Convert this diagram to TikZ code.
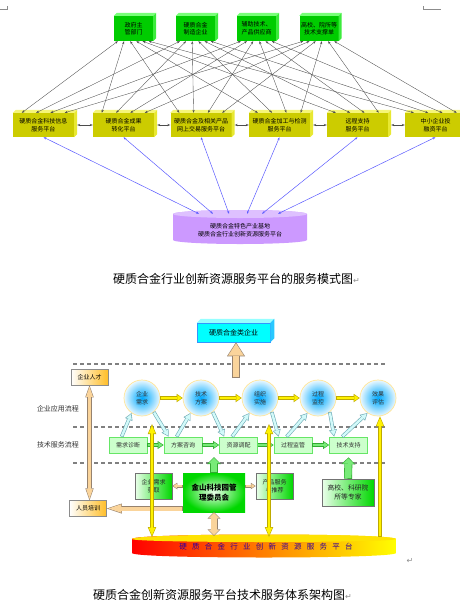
\documentclass[tikz,border=0pt]{standalone}
\usepackage{fontspec}
\newfontfamily\cjk{Noto Sans CJK SC}
\newfontfamily\cjkwide[LetterSpace=70]{Noto Sans CJK SC}
\newfontfamily\symfont{DejaVu Sans}
\usepackage{tikz}
\usetikzlibrary{positioning, arrows.meta}

\definecolor{govfront}{RGB}{0,204,0}
\definecolor{govside}{RGB}{60,235,60}
\definecolor{govtop}{RGB}{120,255,120}
\definecolor{platfront}{RGB}{204,204,0}
\definecolor{platside}{RGB}{232,232,50}
\definecolor{plattop}{RGB}{245,245,120}
\definecolor{cylbody}{RGB}{204,153,255}
\definecolor{cyltop}{RGB}{222,192,255}
\definecolor{linkblue}{RGB}{90,90,255}
\definecolor{firmfront}{RGB}{0,255,255}
\definecolor{firmside}{RGB}{40,200,255}
\definecolor{firmtop}{RGB}{150,255,255}
\definecolor{firmline}{RGB}{50,150,255}
\definecolor{gold}{RGB}{190,170,0}
\definecolor{peach}{RGB}{250,212,155}
\definecolor{peachline}{RGB}{150,130,110}
\definecolor{mint}{RGB}{204,255,204}
\definecolor{mintline}{RGB}{102,230,102}
\definecolor{leaf}{RGB}{120,235,120}
\definecolor{leafline}{RGB}{50,170,50}
\definecolor{ice}{RGB}{210,250,250}
\definecolor{iceline}{RGB}{110,170,180}
\definecolor{ringline}{RGB}{255,228,150}
\definecolor{skyblue}{RGB}{0,170,255}
\definecolor{dashgray}{RGB}{128,128,128}
\definecolor{amber}{RGB}{255,190,40}
\definecolor{deepgreen}{RGB}{0,215,0}
\definecolor{indigo}{RGB}{51,0,153}

\pgfdeclareradialshading{bulb}{\pgfpoint{0bp}{0bp}}{color(0bp)=(skyblue); color(9bp)=(skyblue!70!white); color(27bp)=(white); color(50bp)=(white)}

\tikzset{
  small/.style={font=\cjk\fontsize{6}{7.6}\selectfont, align=center, inner sep=0pt},
  govbox/.style={small, fill=govfront, minimum width=39pt, minimum height=25pt},
  platbox/.style={small, fill=platfront, minimum width=61pt, minimum height=24pt},
  link/.style={{Stealth[length=3pt,width=2.2pt]}-{Stealth[length=3pt,width=2.2pt]}, draw=black!70, line width=0.35pt},
  nbr/.style={link, line width=0.6pt},
  bluelink/.style={link, draw=linkblue, line width=0.5pt},
  caption/.style={font=\cjk\fontsize{12}{14}\selectfont, inner sep=0pt},
  retmark/.style={font=\symfont\fontsize{8}{8}\selectfont, text=black!45, inner sep=0pt},
  sepline/.style={dashgray, line width=1.3pt, dash pattern=on 4pt off 3pt},
  stage/.style={small, circle, minimum size=36pt, draw=ringline, line width=0.7pt, shading=bulb, text=black!80},
  task/.style={small, draw=mintline, fill=mint, line width=0.7pt, minimum width=38pt, minimum height=16pt, text=black!80},
  gbox/.style={small, draw=black!55, line width=0.5pt, left color=green!8, right color=deepgreen, text=black!85},
  person/.style={small, draw=black!45, line width=0.5pt, left color=white, right color=amber, minimum width=37pt, minimum height=16pt},
  lab/.style={font=\cjk\fontsize{7}{8}\selectfont, text=black!80, inner sep=0pt},
  % outlined block arrows: border, fill, shaft, tips, inner shaft, inner tips, shorten > and <
  fat/.style n args={8}{draw=#1, line width=#3, arrows={#4},
    postaction={draw=#2, line width=#5, arrows={#6}, shorten >=#7, shorten <=#8}},
  cflow/.style={fat={gold}{yellow}{3.6pt}{-{Triangle[length=6pt,width=8.5pt,line width=0pt]}}{2.4pt}{-{Triangle[length=4.4pt,width=6.2pt,line width=0pt]}}{1pt}{0.6pt}},
  vlink/.style={fat={gold}{yellow}{4pt}{{Triangle[length=10pt,width=8.5pt,line width=0pt]}-{Triangle[length=10pt,width=8.5pt,line width=0pt]}}{2.8pt}{{Triangle[length=7.9pt,width=6.7pt,line width=0pt]}-{Triangle[length=7.9pt,width=6.7pt,line width=0pt]}}{1.5pt}{1.5pt}},
  vup/.style={fat={gold}{yellow}{4pt}{-{Triangle[length=10pt,width=8.5pt,line width=0pt]}}{2.8pt}{-{Triangle[length=7.9pt,width=6.7pt,line width=0pt]}}{1.5pt}{0.6pt}},
  pflow/.style={fat={leafline}{leaf}{4pt}{-{Triangle[length=6pt,width=8pt,line width=0pt]}}{2.8pt}{-{Triangle[length=4.3pt,width=5.8pt,line width=0pt]}}{1.1pt}{0.6pt}},
  diag/.style={fat={iceline}{ice}{3.6pt}{-{Triangle[length=7pt,width=8pt,line width=0pt]}}{2.4pt}{-{Triangle[length=5.2pt,width=5.9pt,line width=0pt]}}{1.2pt}{0.6pt}},
  pvert/.style={fat={peachline}{peach}{4.5pt}{{Triangle[length=12pt,width=8.5pt,line width=0pt]}-{Triangle[length=12pt,width=8.5pt,line width=0pt]}}{3.5pt}{{Triangle[length=10pt,width=7pt,line width=0pt]}-{Triangle[length=10pt,width=7pt,line width=0pt]}}{1.5pt}{1.5pt}},
  psmall/.style={fat={peachline}{peach}{3pt}{-{Triangle[length=5pt,width=6.5pt,line width=0pt]}}{2pt}{-{Triangle[length=3.6pt,width=4.7pt,line width=0pt]}}{0.9pt}{0.5pt}},
  plong/.style={fat={peachline}{peach}{5pt}{-{Triangle[length=15pt,width=10pt,line width=0pt]}}{4pt}{-{Triangle[length=12.9pt,width=8.6pt,line width=0pt]}}{1.6pt}{0.5pt}},
  pdouble/.style={fat={peachline}{peach}{7pt}{{Triangle[length=6.5pt,width=13pt,line width=0pt]}-{Triangle[length=6.5pt,width=13pt,line width=0pt]}}{6pt}{{Triangle[length=5.3pt,width=10.6pt,line width=0pt]}-{Triangle[length=5.3pt,width=10.6pt,line width=0pt]}}{0.7pt}{0.7pt}},
  pbig/.style={fat={peachline}{peach}{8pt}{-{Triangle[length=14pt,width=18pt,line width=0pt]}}{6.8pt}{-{Triangle[length=12.3pt,width=15.8pt,line width=0pt]}}{1.1pt}{0.6pt}},
  gup/.style={fat={leafline}{leaf}{8pt}{-{Triangle[length=7pt,width=14pt,line width=0pt]}}{6.8pt}{-{Triangle[length=5.5pt,width=11pt,line width=0pt]}}{0.9pt}{0.6pt}},
}

\begin{document}
\begin{tikzpicture}[x=1pt, y=-1pt]
        \clip (0,0) rectangle (460,611);
        \draw[black!45, line width=0.6pt] (0,9) -- (7,9) -- (7,6);
        \draw[black!45, line width=0.6pt] (423,6) -- (423,9) -- (441,9);
        %---------------------------
        \node[govbox] (g1) at (133.5,28.5) {政府主\\管部门};
        \node[govbox] (g2) at (195.5,28.5) {硬质合金\\制造企业};
        \node[govbox] (g3) at (256.5,28.5) {辅助技术、\\产品供应商};
        \node[govbox] (g4) at (319,28.5) {高校、院所等\\技术支撑单};
        \foreach \n in {g1,g2,g3,g4} {
          \fill[govtop] (\n.north west) -- ++(3,-3) -- ([shift={(3,-3)}]\n.north east) -- (\n.north east) -- cycle;
          \fill[govside] (\n.north east) -- ++(3,-3) -- ([shift={(3,-3)}]\n.south east) -- (\n.south east) -- cycle;
        }
        \node[platbox] (y1) at (43.5,125) {硬质合金科技信息\\服务平台};
        \node[platbox] (y2) at (123.5,125) {硬质合金成果\\转化平台};
        \node[platbox] (y3) at (201,125) {硬质合金及相关产品\\网上交易服务平台};
        \node[platbox] (y4) at (279.5,125) {硬质合金加工与检测\\服务平台};
        \node[platbox] (y5) at (357.5,125) {远程支持\\服务平台};
        \node[platbox] (y6) at (435.5,125) {中小企业投\\融资平台};
        \foreach \n in {y1,y2,y3,y4,y5,y6} {
          \fill[plattop] (\n.north west) -- ++(3,-3) -- ([shift={(3,-3)}]\n.north east) -- (\n.north east) -- cycle;
          \fill[platside] (\n.north east) -- ++(3,-3) -- ([shift={(3,-3)}]\n.south east) -- (\n.south east) -- cycle;
        }
        %---------------------------
        \foreach \i in {1,...,4}
          \foreach \j in {1,...,6}
            \draw[link] ([xshift={4+(\j-1)*6.2}]g\i.south west) -- ([xshift={9+(\i-1)*14.3}]y\j.north west);
        \foreach \a/\b in {y1/y2, y2/y3, y3/y4, y4/y5, y5/y6}
          \draw[nbr] ([xshift=3]\a.east) -- (\b.west);
        %---------------------------
        \fill[cylbody] (173,214) -- (173,240) arc[start angle=180, end angle=0, x radius=67, y radius=4] -- (307,214) arc[start angle=0, end angle=-180, x radius=67, y radius=4] -- cycle;
        \fill[cyltop] (240,214) ellipse[x radius=67, y radius=4];
        \node[small, minimum width=134pt, minimum height=32pt] (base) at (240,230) {硬质合金特色产业基地\\硬质合金行业创新资源服务平台};
        \foreach \j/\dx in {1/-41, 2/-27, 3/-11, 4/7, 5/22, 6/38}
          \draw[bluelink] ([xshift=\dx]base.north) -- (y\j.south);
        \node[caption, anchor=west] (cap1) at (113,279) {硬质合金行业创新资源服务平台的服务模式图{\symfont\color{black!45}\fontsize{8}{8}\selectfont ↵}};
        %---------------------------
        \node[small, font=\cjk\fontsize{7}{8}\selectfont, fill=firmfront, draw=firmline, line width=0.5pt, minimum width=73pt, minimum height=19pt] (firm) at (233.5,332.5) {硬质合金类企业};
        \fill[firmtop] (firm.north west) -- ++(4,-4) -- ([shift={(4,-4)}]firm.north east) -- (firm.north east) -- cycle;
        \fill[firmside] (firm.north east) -- ++(4,-4) -- ([shift={(4,-4)}]firm.south east) -- (firm.south east) -- cycle;
        \foreach \yy in {364,427,463}
          \draw[sepline] (73,\yy) -- (385,\yy);
        \node[lab] (app) at (58,409) {企业应用流程};
        \node[lab] (tech) at (58,445) {技术服务流程};
        \node[person] (talent) at (89.5,377) {企业人才};
        \node[person] (train) at (88,508.5) {人员培训};
        %---------------------------
        \node[stage] (c1) at (142,398) {企业\\需求};
        \node[stage] (c2) at (201,398) {技术\\方案};
        \node[stage] (c3) at (260,398) {组织\\实施};
        \node[stage] (c4) at (318,398) {过程\\监控};
        \node[stage] (c5) at (378,398) {效果\\评估};
        \node[task] (p1) at (128,445) {需求诊断};
        \node[task] (p2) at (183,445) {方案咨询};
        \node[task] (p3) at (238.5,445) {资源调配};
        \node[task] (p4) at (293,445) {过程监管};
        \node[task] (p5) at (348.5,445) {技术支持};
        \node[gbox, minimum width=37pt, minimum height=26pt] (q1) at (153.5,486) {企业需求\\获取};
        \node[gbox, minimum width=37pt, minimum height=26pt] (q2) at (274.5,486) {产品服务\\与推荐};
        \node[small, font=\cjk\bfseries\fontsize{7.5}{10.5}\selectfont, inner color=green!8, outer color=deepgreen, minimum width=62pt, minimum height=39pt] (jsk) at (214,492.5) {金山科技园管\\理委员会};
        \node[gbox, font=\cjk\fontsize{6.8}{9}\selectfont, minimum width=52pt, minimum height=27pt] (expert) at (348,492.5) {高校、科研院\\所等专家};
        %---------------------------
        \shade[left color=red, middle color=orange, right color=yellow] (132,539) -- (132,553) .. controls (132,559) and (396,559) .. (396,553) -- (396,539) .. controls (396,533) and (132,533) .. (132,539) -- cycle;
        \fill[yellow!85!orange] (132,539) .. controls (132,533) and (396,533) .. (396,539) .. controls (396,543) and (132,543) .. (132,539) -- cycle;
        \node[font=\cjkwide\fontsize{7.5}{9}\selectfont, text=indigo, minimum width=264pt, minimum height=22pt, inner sep=0pt] (plat) at (266,547) {硬质合金行业创新资源服务平台};
        \node[retmark] (ret2) at (410,561) {↵};
        %---------------------------
        \foreach \a/\b in {c1/c2, c2/c3, c3/c4, c4/c5}
          \draw[cflow] (\a.east) -- (\b.west);
        \foreach \a/\b in {p1/p2, p2/p3, p3/p4, p4/p5}
          \draw[pflow] (\a.east) -- (\b.west);
        \foreach \i in {1,...,5}
          \draw[diag] ([xshift=13]p\i.north west) -- (c\i.-125);
        \foreach \i/\k in {1/2, 2/3, 3/4, 4/5}
          \draw[diag] (c\i.-50) -- ([xshift=5]p\k.north west);
        %---------------------------
        \coordinate (bigbase) at (236,378);
        \coordinate (jskup) at (214,457);
        \coordinate (v1a) at (152,424);
        \coordinate (v1b) at (152,537);
        \coordinate (v2a) at (269,424);
        \coordinate (v2b) at (269,537);
        \coordinate (v3b) at (380,537);
        \draw[pbig] (bigbase) -- ([xshift=2.5]firm.south);
        \draw[pvert] (talent.south) -- (talent.south |- train.north);
        \draw[psmall] (jsk.west |- q1.east) -- (q1.east);
        \draw[psmall] (jsk.east |- q2.west) -- (q2.west);
        \draw[plong] (jsk.west |- train.east) -- (train.east);
        \draw[pdouble] (jsk.south) -- (jsk.south |- plat.north);
        \draw[gup] (jsk.north) -- (jskup);
        \draw[gup] (expert.north) -- ([yshift=-4pt]p5.south);
        \draw[vlink] (v1a) -- (v1b);
        \draw[vlink] (v2a) -- (v2b);
        \draw[vup] (v3b) -- (v3b |- c5.south);
        %---------------------------
        \node[caption, anchor=west] (cap2) at (93,595) {硬质合金创新资源服务平台技术服务体系架构图{\symfont\color{black!45}\fontsize{8}{8}\selectfont ↵}};
\end{tikzpicture}
\end{document}
